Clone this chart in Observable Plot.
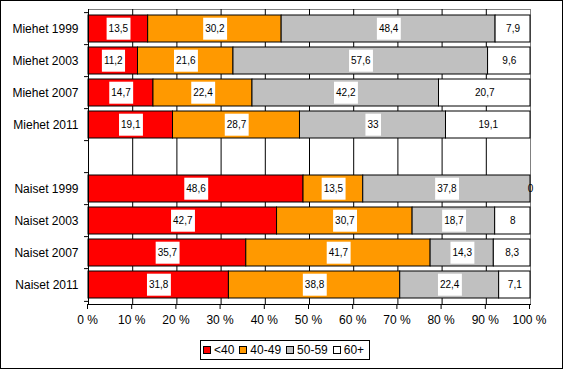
<!DOCTYPE html>
<html>
<head>
<meta charset="utf-8">
<script src="https://cdn.jsdelivr.net/npm/d3@7"></script>
<script src="https://cdn.jsdelivr.net/npm/@observablehq/plot@0.6"></script>
<style>
  html, body { margin: 0; padding: 0; background: #fff; }
  #wrap { position: relative; width: 566px; height: 370px; font-family: "Liberation Sans", Arial, sans-serif; }
  #border { position: absolute; left: 0; top: 0; width: 563px; height: 369px; box-sizing: border-box; border: 1px solid #000; pointer-events: none; }
  #legend { position: absolute; left: 200px; top: 340px; width: 170px; height: 20px; box-sizing: border-box; border: 1px solid #000; display: flex; align-items: center; padding-left: 2px; font-size: 12px; color: #000; white-space: nowrap; overflow: hidden; }
  #legend .item { display: flex; align-items: center; margin-right: 5px; flex-shrink: 0; white-space: nowrap; }
  #legend .sw { width: 8px; height: 8px; box-sizing: border-box; border: 1px solid #000; margin-right: 3px; flex-shrink: 0; }
  #chart { position: absolute; left: 0; top: 0; }
</style>
</head>
<body>
<div id="wrap">
  <div id="chart"></div>
  <div id="legend"></div>
  <div id="border"></div>
</div>
<script>
// ---- data ----
const rows = ["Miehet 1999", "Miehet 2003", "Miehet 2007", "Miehet 2011",
              "Naiset 1999", "Naiset 2003", "Naiset 2007", "Naiset 2011"];
const categories = ["Miehet 1999", "Miehet 2003", "Miehet 2007", "Miehet 2011", "",
                    "Naiset 1999", "Naiset 2003", "Naiset 2007", "Naiset 2011"];
const groups = ["<40", "40-49", "50-59", "60+"];
const colors = ["#FF0000", "#FF9900", "#C0C0C0", "#FFFFFF"];
const under40 = [13.5, 11.2, 14.7, 19.1, 48.6, 42.7, 35.7, 31.8];
const age4049 = [30.2, 21.6, 22.4, 28.7, 13.5, 30.7, 41.7, 38.8];
const age5059 = [48.4, 57.6, 42.2, 33, 37.8, 18.7, 14.3, 22.4];
const age60 = [7.9, 9.6, 20.7, 19.1, 0, 8, 8.3, 7.1];
const xTickValues = [0, 10, 20, 30, 40, 50, 60, 70, 80, 90, 100];
const gridValues = [10, 20, 30, 40, 50, 60, 70, 80, 90];

const series = [under40, age4049, age5059, age60];
const data = [];
rows.forEach((r, i) => {
  groups.forEach((g, j) => data.push({row: r, group: g, value: series[j][i]}));
});
const fmt = v => String(v).replace(".", ",");

const W = 566, H = 335;
const mTop = 9, mBottom = 31, mLeft = 88, mRight = 36;
const step = (H - mTop - mBottom) / categories.length;

const stackOpts = {x: "value", y: "row", offset: "normalize"};

const plot = Plot.plot({
  width: W,
  height: H,
  marginTop: mTop,
  marginBottom: mBottom,
  marginLeft: mLeft,
  marginRight: mRight,
  style: {fontFamily: "Liberation Sans, Arial, sans-serif", fontSize: "12px", color: "#000", background: "transparent", overflow: "visible"},
  x: {domain: [0, 1]},
  y: {domain: categories, paddingInner: 0.17, paddingOuter: 0.085},
  color: {domain: groups, range: colors},
  marks: [
    Plot.frame({stroke: "#808080"}),
    Plot.ruleX(gridValues, {x: d => d / 100, stroke: "#000"}),
    Plot.barX(data, Plot.stackX({...stackOpts, fill: "group", stroke: "#000", strokeWidth: 1})),
    Plot.text(data, Plot.stackX({...stackOpts, text: d => fmt(d.value), fontSize: 10, fill: "#000", className: "seglabel"})),
    Plot.frame({anchor: "left", stroke: "#000"}),
    Plot.frame({anchor: "bottom", stroke: "#000"}),
    Plot.ruleY(categories, {y: d => d, dy: -step / 2, x1: -0.009, x2: 0, stroke: "#000"}),
    Plot.ruleY([categories[categories.length - 1]], {y: d => d, dy: step / 2, x1: -0.009, x2: 0, stroke: "#000"}),
    Plot.axisX({ticks: xTickValues.map(d => d / 100), tickFormat: d => Math.round(d * 100) + " %", tickSize: 5, tickPadding: 6, label: null, fontSize: 12, dx: -1}),
    Plot.axisY({tickSize: 0, tickPadding: 10, label: null, fontSize: 12})
  ]
});
document.getElementById("chart").appendChild(plot);

// white boxes behind segment labels
document.querySelectorAll("g.seglabel text, g[aria-label='text'] text").forEach(t => {
  if (t.textContent === "0") return;
  const bb = t.getBBox();
  const rect = document.createElementNS("http://www.w3.org/2000/svg", "rect");
  rect.setAttribute("x", bb.x - 2);
  rect.setAttribute("y", bb.y + bb.height / 2 - 11);
  rect.setAttribute("width", bb.width + 4);
  rect.setAttribute("height", 22);
  rect.setAttribute("fill", "#fff");
  const tr = t.getAttribute("transform");
  if (tr) rect.setAttribute("transform", tr);
  t.parentNode.insertBefore(rect, t);
});

// legend
const legend = document.getElementById("legend");
groups.forEach((g, i) => {
  const item = document.createElement("div");
  item.className = "item";
  const sw = document.createElement("div");
  sw.className = "sw";
  sw.style.background = colors[i];
  const lab = document.createElement("span");
  lab.textContent = g;
  item.appendChild(sw);
  item.appendChild(lab);
  legend.appendChild(item);
});
</script>
</body>
</html>
